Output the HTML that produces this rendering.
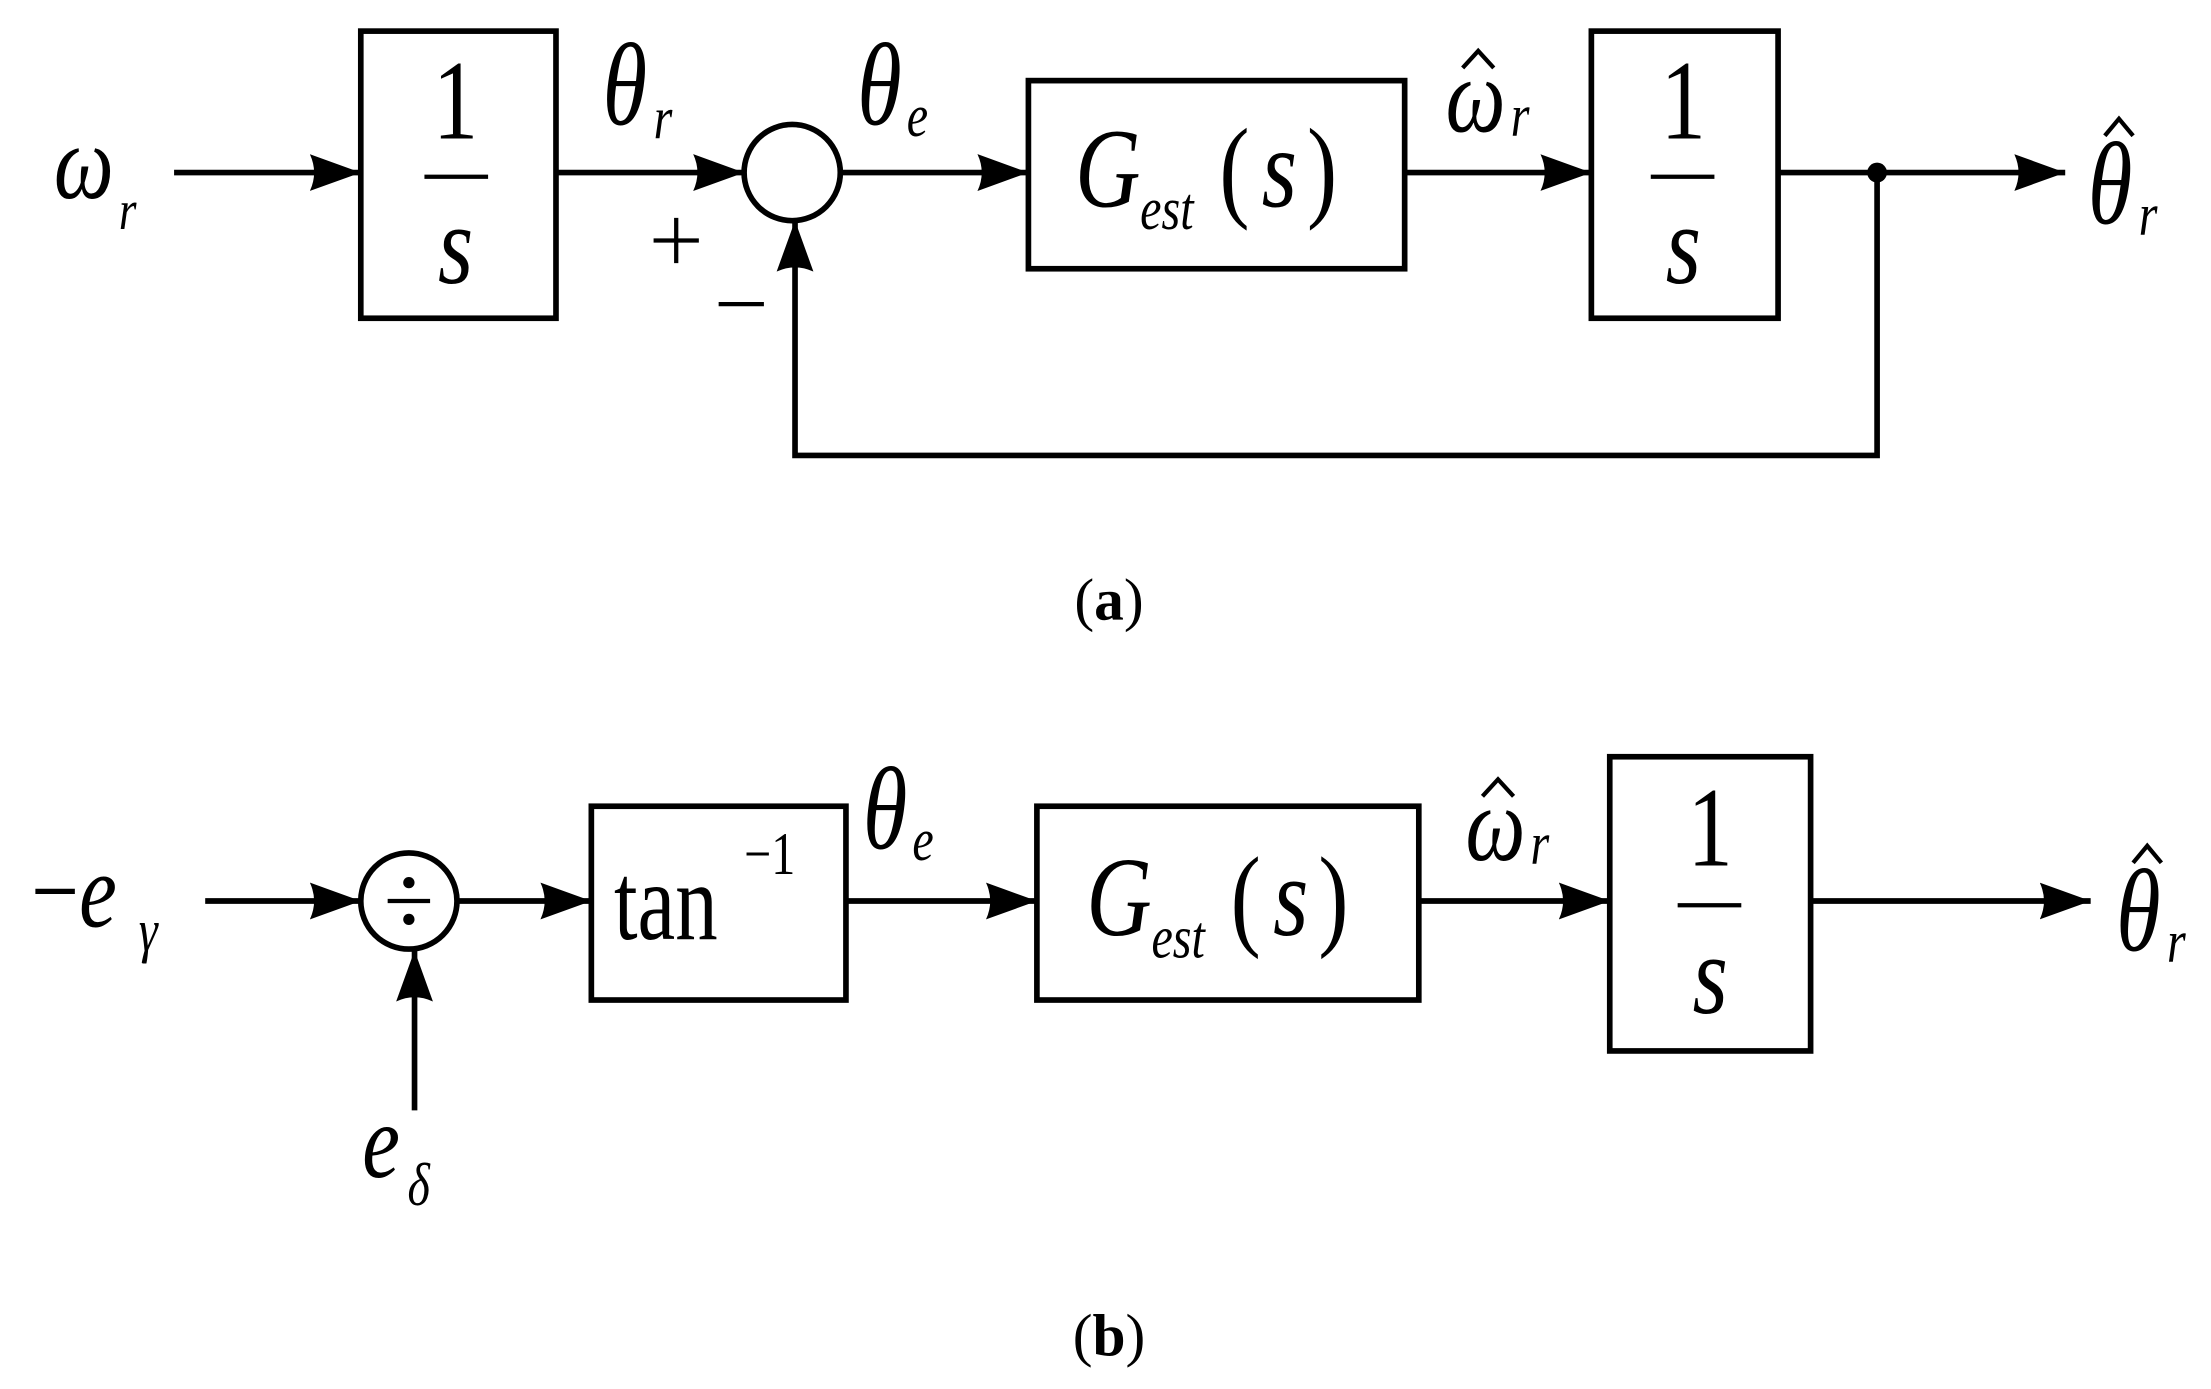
<!DOCTYPE html>
<html><head><meta charset="utf-8"><style>
html,body{margin:0;padding:0;background:#fff;}
svg{display:block;}
text{font-family:'Liberation Serif',serif;}
</style></head><body>
<svg width="2211" height="1389" viewBox="0 0 1563 982" xmlns="http://www.w3.org/2000/svg" font-family="'Liberation Serif', serif">
<defs>
<marker id="a" markerWidth="40" markerHeight="30" refX="36" refY="13" orient="auto" markerUnits="userSpaceOnUse">
<path d="M0,0 Q6,13 0,26 L36,13 Z" fill="#000"/>
</marker>
</defs>
<g stroke="#000" stroke-width="4" fill="none">
<line x1="123" y1="122" x2="255" y2="122" marker-end="url(#a)"/>
<rect x="255" y="22" width="138" height="203"/>
<line x1="300" y1="125" x2="345" y2="125" stroke-width="3"/>
<line x1="393" y1="122" x2="526" y2="122" marker-end="url(#a)"/>
<circle cx="560" cy="122" r="34"/>
<line x1="594" y1="122" x2="727" y2="122" marker-end="url(#a)"/>
<rect x="727" y="57" width="266" height="133"/>
<line x1="993" y1="122" x2="1125" y2="122" marker-end="url(#a)"/>
<rect x="1125" y="22" width="132" height="203"/>
<line x1="1167" y1="125" x2="1212" y2="125" stroke-width="3"/>
<line x1="1257" y1="122" x2="1460" y2="122" marker-end="url(#a)"/>
<polyline points="1327,122 1327,322 562,322 562,156" marker-end="url(#a)"/>
<line x1="145" y1="637" x2="255" y2="637" marker-end="url(#a)"/>
<circle cx="289" cy="637" r="34"/>
<line x1="323" y1="637" x2="418" y2="637" marker-end="url(#a)"/>
<line x1="293" y1="785" x2="293" y2="672" marker-end="url(#a)"/>
<rect x="418" y="570" width="180" height="137"/>
<line x1="598" y1="637" x2="733" y2="637" marker-end="url(#a)"/>
<rect x="733" y="570" width="270" height="137"/>
<line x1="1003" y1="637" x2="1138" y2="637" marker-end="url(#a)"/>
<rect x="1138" y="535" width="142" height="208"/>
<line x1="1186" y1="640" x2="1231" y2="640" stroke-width="3"/>
<line x1="1280" y1="637" x2="1478" y2="637" marker-end="url(#a)"/>
<!-- hats -->
<path d="M1034,48 L1045,36 L1056,48" stroke-width="3"/>
<path d="M1488,96 L1498,84 L1508,96" stroke-width="3"/>
<path d="M1048,563 L1059,551 L1070,563" stroke-width="3"/>
<path d="M1508,610 L1518,598 L1528,610" stroke-width="3"/>
<!-- plus / minus -->
<path d="M462,170 H494 M478,154 V186" stroke-width="3"/>
<path d="M508,215 H540" stroke-width="3"/>
</g>
<circle cx="1327" cy="122" r="7" fill="#000"/>
<line x1="274" y1="637" x2="304" y2="637" stroke="#000" stroke-width="3"/>
<circle cx="289" cy="624" r="4" fill="#000"/>
<circle cx="289" cy="650" r="4" fill="#000"/>

<g fill="#000">
<text transform="translate(38,140) scale(1,1.25)" font-size="60" font-style="italic">ω</text>
<text transform="translate(84,162) scale(1,1.25)" font-size="32" font-style="italic">r</text>
<text transform="translate(322,98) scale(1,1.25)" font-size="64" text-anchor="middle">1</text>
<text transform="translate(322,200) scale(1,1.25)" font-size="64" text-anchor="middle" font-style="italic">s</text>
<text transform="translate(426,88) scale(1,1.3)" font-size="64" font-style="italic">θ</text>
<text transform="translate(462,98) scale(1,1.25)" font-size="34" font-style="italic">r</text>
<text transform="translate(606,88) scale(1,1.3)" font-size="64" font-style="italic">θ</text>
<text transform="translate(641,96) scale(1,1.25)" font-size="34" font-style="italic">e</text>
<text transform="translate(760,146) scale(1,1.25)" font-size="64" font-style="italic">G</text>
<text transform="translate(806,162) scale(1,1.25)" font-size="34" font-style="italic">est</text>
<text transform="translate(862,146) scale(1,1.25)" font-size="64">(</text>
<text transform="translate(892,146) scale(1,1.25)" font-size="64" font-style="italic">s</text>
<text transform="translate(924,146) scale(1,1.25)" font-size="64">)</text>
<text transform="translate(1022,93) scale(1,1.25)" font-size="60" font-style="italic">ω</text>
<text transform="translate(1068,96) scale(1,1.25)" font-size="34" font-style="italic">r</text>
<text transform="translate(1190,98) scale(1,1.25)" font-size="64" text-anchor="middle">1</text>
<text transform="translate(1190,200) scale(1,1.25)" font-size="64" text-anchor="middle" font-style="italic">s</text>
<text transform="translate(1476,158) scale(1,1.3)" font-size="64" font-style="italic">θ</text>
<text transform="translate(1512,166) scale(1,1.25)" font-size="34" font-style="italic">r</text>
<text x="784" y="438" font-size="42" text-anchor="middle">(<tspan font-weight="bold">a</tspan>)</text>
<text transform="translate(22,655) scale(1,1.25)" font-size="60">−<tspan font-style="italic">e</tspan></text>
<text transform="translate(98,672) scale(1,1.25)" font-size="34" font-style="italic">γ</text>
<text transform="translate(256,832) scale(1,1.25)" font-size="60" font-style="italic">e</text>
<text transform="translate(288,852) scale(1,1.25)" font-size="34" font-style="italic">δ</text>
<text transform="translate(434,664) scale(1,1.3)" font-size="60">tan</text>
<text transform="translate(526,618) scale(1,1.25)" font-size="34">−1</text>
<text transform="translate(610,600) scale(1,1.3)" font-size="64" font-style="italic">θ</text>
<text transform="translate(645,608) scale(1,1.25)" font-size="34" font-style="italic">e</text>
<text transform="translate(768,661) scale(1,1.25)" font-size="64" font-style="italic">G</text>
<text transform="translate(814,677) scale(1,1.25)" font-size="34" font-style="italic">est</text>
<text transform="translate(870,661) scale(1,1.25)" font-size="64">(</text>
<text transform="translate(900,661) scale(1,1.25)" font-size="64" font-style="italic">s</text>
<text transform="translate(932,661) scale(1,1.25)" font-size="64">)</text>
<text transform="translate(1036,608) scale(1,1.25)" font-size="60" font-style="italic">ω</text>
<text transform="translate(1082,611) scale(1,1.25)" font-size="34" font-style="italic">r</text>
<text transform="translate(1209,612) scale(1,1.25)" font-size="64" text-anchor="middle">1</text>
<text transform="translate(1209,716) scale(1,1.25)" font-size="64" text-anchor="middle" font-style="italic">s</text>
<text transform="translate(1496,672) scale(1,1.3)" font-size="64" font-style="italic">θ</text>
<text transform="translate(1532,680) scale(1,1.25)" font-size="34" font-style="italic">r</text>
<text x="784" y="958" font-size="42" text-anchor="middle">(<tspan font-weight="bold">b</tspan>)</text>
</g>
</svg>
</body></html>
